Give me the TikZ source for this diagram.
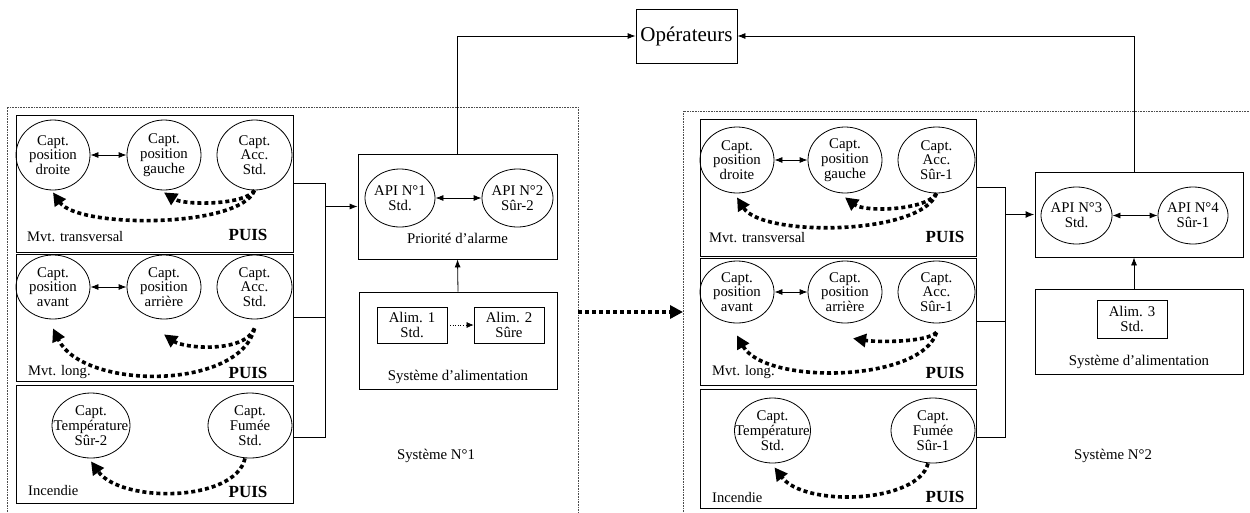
\documentclass[tikz,border=0pt]{standalone}
\usepackage{fontspec}
\setmainfont{Liberation Serif}
\usetikzlibrary{arrows.meta,shapes.geometric}
\begin{document}
\begin{tikzpicture}[x=1pt,y=-1pt,
  every node/.style={font=\fontsize{14.8}{15}\selectfont, inner sep=0pt},
  box/.style={draw, rectangle, line width=0.8pt},
  capt/.style={draw, ellipse, line width=0.8pt},
  ctext/.style={align=center, font=\fontsize{14.8}{14.8}\selectfont, inner sep=0pt},
  ctx/.style={label={[ctext]center:{#1}}},
  tip/.style={line width=0.8pt, -{Latex[length=8pt,width=6pt]}},
  dtip/.style={line width=0.8pt, {Latex[length=8pt,width=6pt]}-{Latex[length=8pt,width=6pt]}},
  dotarr/.style={line width=3.6pt, dash pattern=on 4pt off 3pt, -{Triangle[length=13pt,width=13pt]}},
  frame/.style={black!70, line width=0.6pt, dash pattern=on 0.8pt off 0.8pt},
  puis/.style={font=\fontsize{17}{18}\selectfont\bfseries},
  lab/.style={anchor=west, font=\fontsize{14.6}{15}\selectfont},
  plain/.style={line width=0.8pt}]
\useasboundingbox (0,0) rectangle (1250,512);

% frames
\draw[frame] (7,512) -- (7,107) -- (578,107) -- (578,512);
\draw[frame] (683,512) -- (683,111) -- (1250,111);

% Operateurs
\node[box, minimum width=101pt, minimum height=54pt, font=\fontsize{21}{22}\selectfont] (op) at (686.5,36) {Opérateurs};

%%%%%%%% System 1
\node[box, minimum width=277pt, minimum height=137pt] (b1) at (154.5,183.5) {};
\node[box, minimum width=277pt, minimum height=127pt] (b2) at (154.5,317.5) {};
\node[box, minimum width=277pt, minimum height=118pt] (b3) at (154.5,444) {};

\node[capt, minimum width=74pt, minimum height=70pt, ctx={Capt.\\position\\droite}] (c11) at (53,155) {};
\node[capt, minimum width=74pt, minimum height=70pt, ctx={Capt.\\position\\gauche}] (c12) at (164,155) {};
\node[capt, minimum width=75pt, minimum height=70pt, ctx={Capt.\\Acc.\\Std.}] (c13) at (254.5,155) {};
\draw[dtip] (c11) -- (c12);
\draw[dotarr] (c13.south) .. controls +(-15,38) and +(25,36) .. ([yshift=-2pt]c11.south);
\draw[dotarr] (c13.south) .. controls +(-10,15) and +(20,13) .. ([yshift=-2pt]c12.south);
\node[lab] (l11) at (27,237) {Mvt. transversal};
\node[puis] (p11) at (248,235) {PUIS};

\node[capt, minimum width=74pt, minimum height=64pt, ctx={Capt.\\position\\avant}] (c21) at (53,287) {};
\node[capt, minimum width=74pt, minimum height=64pt, ctx={Capt.\\position\\arrière}] (c22) at (164,287) {};
\node[capt, minimum width=75pt, minimum height=64pt, ctx={Capt.\\Acc.\\Std.}] (c23) at (254.5,287) {};
\draw[dtip] (c21) -- (c22);
\draw[dotarr] ([yshift=-9pt]c23.south) .. controls +(-15,62) and +(30,62) .. ([yshift=-9pt]c21.south);
\draw[dotarr] ([yshift=-9pt]c23.south) .. controls +(-10,25) and +(20,14) .. ([yshift=-15pt]c22.south);
\node[lab] (l12) at (28,372) {Mvt. long.};
\node[puis] (p12) at (248,373) {PUIS};

\node[capt, minimum width=78pt, minimum height=65pt, ctx={Capt.\\Température\\Sûr-2}] (c31) at (91,425.5) {};
\node[capt, minimum width=84pt, minimum height=65pt, ctx={Capt.\\Fumée\\Std.}] (c32) at (250,425.5) {};
\draw[dotarr] ([xshift=-5pt]c32.south) .. controls +(-10,44) and +(30,42) .. ([yshift=-3pt]c31.south);
\node[lab] (l13) at (28,490) {Incendie};
\node[puis] (p13) at (248,492) {PUIS};

% API 1 box
\node[box, minimum width=199pt, minimum height=105pt] (api1) at (457.5,206.5) {};
\node[capt, minimum width=70pt, minimum height=58pt, ctx={API N°1\\Std.}] (a1) at (400,198) {};
\node[capt, minimum width=71pt, minimum height=58pt, ctx={API N°2\\Sûr-2}] (a2) at (517.5,198) {};
\draw[dtip] (a1) -- (a2);
\node (pr1) at (457.5,238) {Priorité d’alarme};

% alimentation 1
\node[box, minimum width=198pt, minimum height=97pt] (al) at (458,340.5) {};
\node[box, minimum width=70pt, minimum height=36pt, align=center] (al1) at (412,325) {Alim. 1\\Std.};
\node[box, minimum width=70pt, minimum height=36pt, align=center] (al2) at (509,325) {Alim. 2\\Sûre};
\draw[line width=0.6pt, dotted, -{Latex[length=7pt,width=6pt]}] (al1) -- (al2);
\node (sa1) at (458,377) {Système d’alimentation};
\draw[tip] (al.north) -- (api1.south);

% bus 1
\coordinate (bus1) at (325,200);
\draw[plain] (b1.east) -- (b1.east -| bus1) -- ([yshift=7pt]b3.east -| bus1) -- ([yshift=7pt]b3.east);
\draw[plain] (b2.east) -- (b2.east -| bus1);
\draw[tip] (api1.west -| bus1) -- (api1.west);

\draw[tip] (api1.north) |- (op.west);
\node (s1) at (436,456) {Système N°1};

% link between systems
\coordinate (s1r) at (578,312);
\coordinate (s2l) at (683,312);
\draw[dotarr] (s1r) -- (s2l);

%%%%%%%% System 2
\node[box, minimum width=276pt, minimum height=137pt] (b4) at (838,187.5) {};
\node[box, minimum width=276pt, minimum height=127pt] (b5) at (838,321.5) {};
\node[box, minimum width=276pt, minimum height=119pt] (b6) at (838,448.5) {};

\node[capt, minimum width=74pt, minimum height=66pt, ctx={Capt.\\position\\droite}] (c41) at (737,160) {};
\node[capt, minimum width=74pt, minimum height=66pt, ctx={Capt.\\position\\gauche}] (c42) at (845,160) {};
\node[capt, minimum width=77pt, minimum height=66pt, ctx={Capt.\\Acc.\\Sûr-1}] (c43) at (936.5,160) {};
\draw[dtip] (c41) -- (c42);
\draw[dotarr] (c43.south) .. controls +(-15,42) and +(25,40) .. ([yshift=-4pt]c41.south);
\draw[dotarr] (c43.south) .. controls +(-10,17) and +(20,15) .. ([yshift=-4pt]c42.south);
\node[lab] (l21) at (709,238) {Mvt. transversal};
\node[puis] (p21) at (945,237) {PUIS};

\node[capt, minimum width=74pt, minimum height=62pt, ctx={Capt.\\position\\avant}] (c51) at (737,292) {};
\node[capt, minimum width=74pt, minimum height=62pt, ctx={Capt.\\position\\arrière}] (c52) at (845,292) {};
\node[capt, minimum width=77pt, minimum height=62pt, ctx={Capt.\\Acc.\\Sûr-1}] (c53) at (936.5,292) {};
\draw[dtip] (c51) -- (c52);
\draw[dotarr] ([yshift=-9pt]c53.south) .. controls +(-15,50) and +(28,50) .. ([yshift=-12pt]c51.south);
\draw[dotarr] ([yshift=-9pt]c53.south) .. controls +(-10,10) and +(25,4) .. ([xshift=8pt,yshift=-15pt]c52.south);
\node[lab] (l22) at (712,372) {Mvt. long.};
\node[puis] (p22) at (945,373) {PUIS};

\node[capt, minimum width=76pt, minimum height=65pt, ctx={Capt.\\Température\\Std.}] (c61) at (772.5,430.5) {};
\node[capt, minimum width=84pt, minimum height=65pt, ctx={Capt.\\Fumée\\Sûr-1}] (c62) at (933,430.5) {};
\draw[dotarr] ([xshift=-5pt]c62.south) .. controls +(-10,40) and +(30,40) .. ([xshift=2pt,yshift=-4pt]c61.south);
\node[lab] (l23) at (712,497) {Incendie};
\node[puis] (p23) at (945,497) {PUIS};

% API 2 box
\node[box, minimum width=208pt, minimum height=85pt] (api2) at (1139,214.5) {};
\node[capt, minimum width=71pt, minimum height=57pt, ctx={API N°3\\Std.}] (a3) at (1076.5,215.5) {};
\node[capt, minimum width=70pt, minimum height=57pt, ctx={API N°4\\Sûr-1}] (a4) at (1193,215.5) {};
\draw[dtip] (a3) -- (a4);

% alimentation 2
\node[box, minimum width=208pt, minimum height=85pt] (alb) at (1139,331.5) {};
\node[box, minimum width=70pt, minimum height=38pt, align=center] (al3) at (1132,319) {Alim. 3\\Std.};
\node (sa2) at (1139,362) {Système d’alimentation};
\draw[tip] ([xshift=-5pt]alb.north) -- ([xshift=-5pt]api2.south);

% bus 2
\coordinate (bus2) at (1005,200);
\draw[plain] (b4.east) -- (b4.east -| bus2) -- ([yshift=11.5pt]b6.east -| bus2) -- ([yshift=11.5pt]b6.east);
\draw[plain] (b5.east) -- (b5.east -| bus2);
\draw[line width=1.6pt, -{Latex[length=9pt,width=7pt]}] (api2.west -| bus2) -- (api2.west);

\draw[tip] ([xshift=-5pt]api2.north) |- (op.east);
\node (s2) at (1113,456) {Système N°2};
\end{tikzpicture}
\end{document}
